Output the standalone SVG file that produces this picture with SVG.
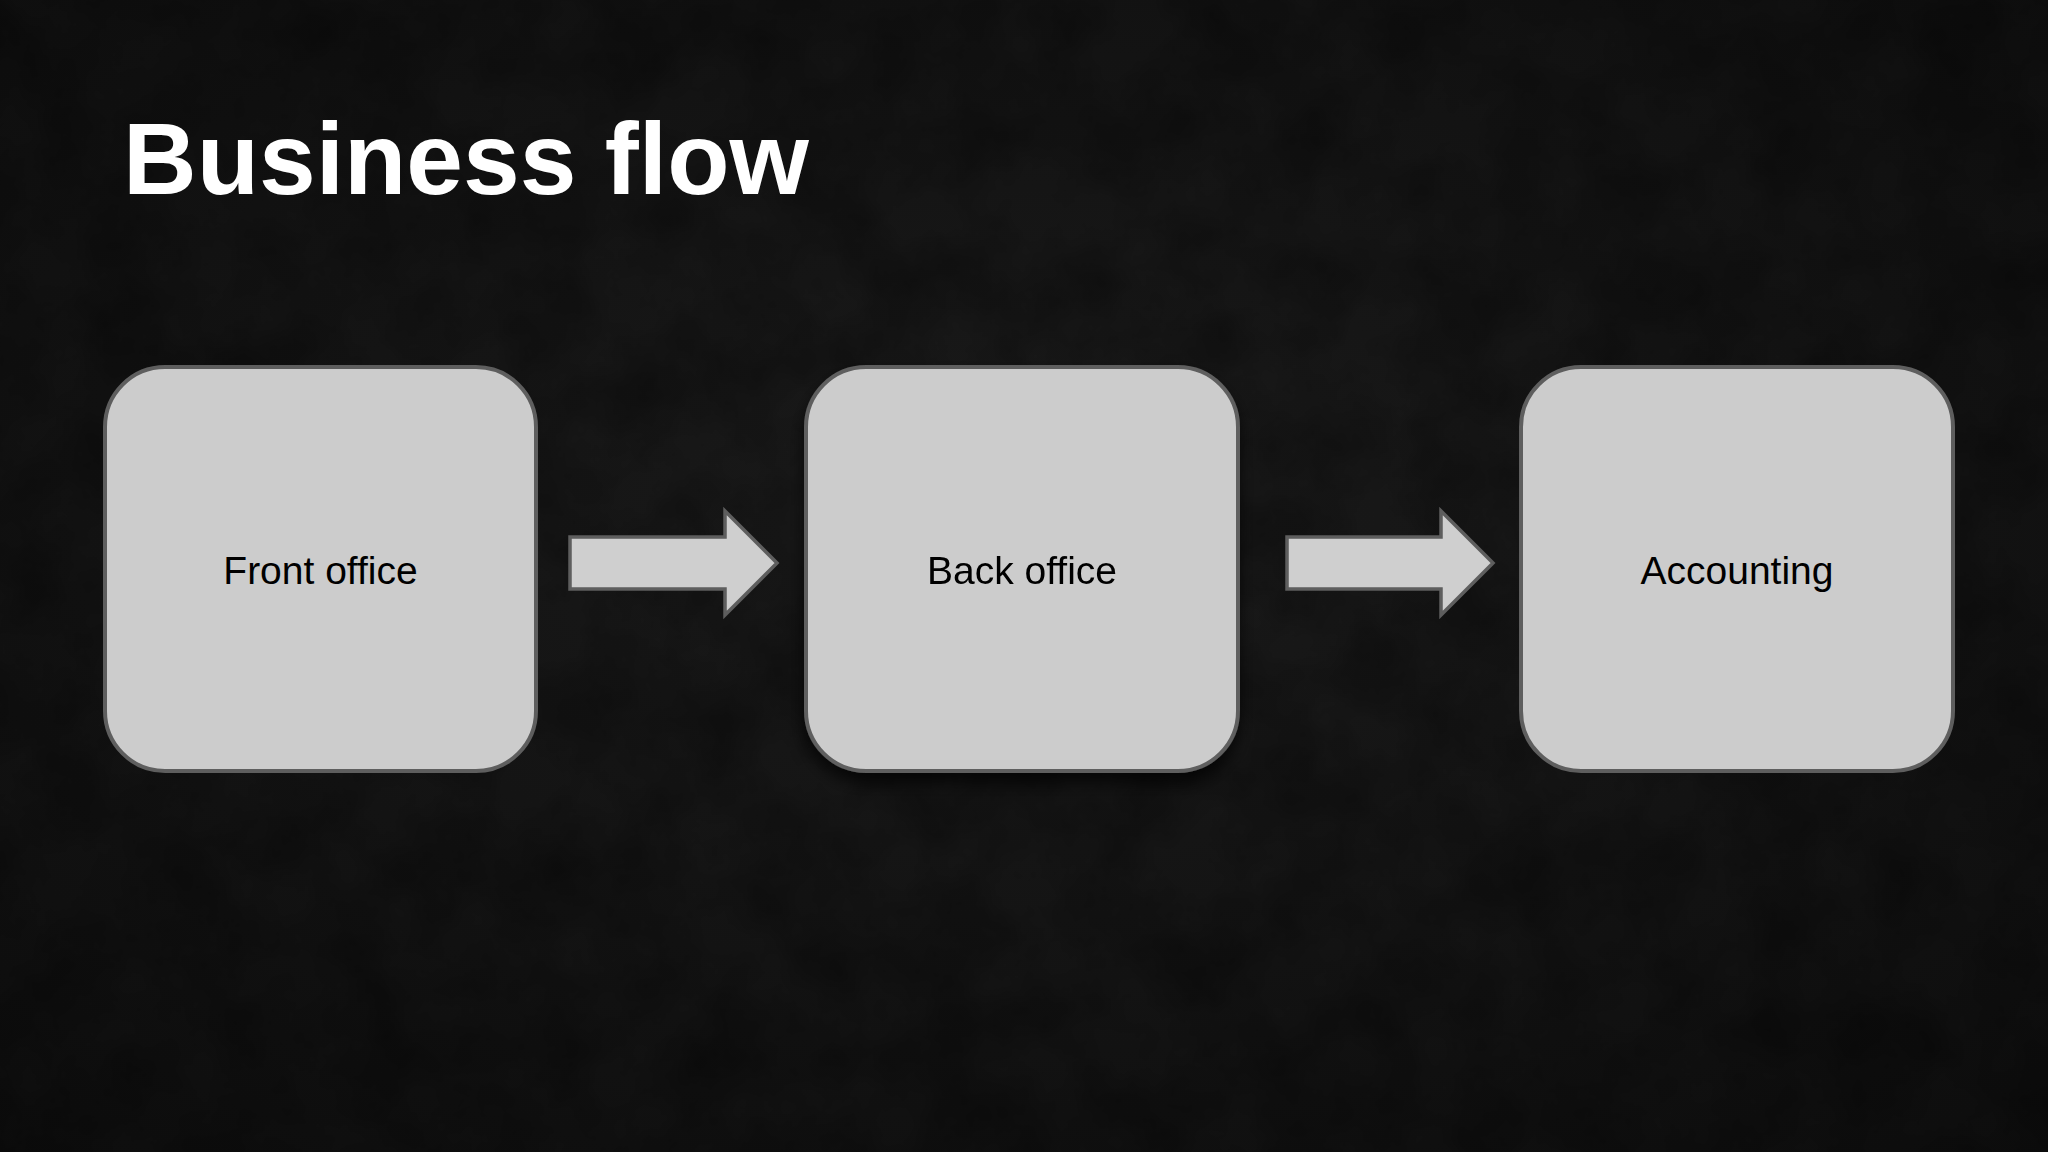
<svg xmlns="http://www.w3.org/2000/svg" width="2048" height="1152" viewBox="0 0 2048 1152">
  <defs>
    <filter id="grunge" x="0" y="0" width="100%" height="100%">
      <feTurbulence type="fractalNoise" baseFrequency="0.012" numOctaves="5" seed="7" result="n"/>
      <feColorMatrix in="n" type="matrix" values="0 0 0 0 0  0 0 0 0 0  0 0 0 0 0  0 0 0 -1.6 1.1"/>
    </filter>
    <filter id="shadow" x="-10%" y="-10%" width="120%" height="125%">
      <feGaussianBlur in="SourceAlpha" stdDeviation="8"/>
      <feOffset dx="0" dy="10" result="b"/>
      <feComponentTransfer><feFuncA type="linear" slope="0.7"/></feComponentTransfer>
      <feMerge><feMergeNode/><feMergeNode in="SourceGraphic"/></feMerge>
    </filter>
    <radialGradient id="bg" cx="50%" cy="45%" r="75%">
      <stop offset="0" stop-color="#1a1a1a"/>
      <stop offset="1" stop-color="#0d0d0d"/>
    </radialGradient>
  </defs>
  <style>
    .box { fill: #cccccc; stroke: #5e5e5e; stroke-width: 4; }
    .arrow { fill: #cfcfcf; stroke: #5e5e5e; stroke-width: 3.5; stroke-linejoin: miter; }
    .label { font-family: "Liberation Sans", Arial, sans-serif; font-size: 39px; fill: #000000; text-anchor: middle; }
    .title { font-family: "Liberation Sans", Arial, sans-serif; font-size: 102px; font-weight: bold; fill: #ffffff; }
  </style>

  <rect x="0" y="0" width="2048" height="1152" fill="url(#bg)"/>
  <rect x="0" y="0" width="2048" height="1152" fill="#000" opacity="0.35" filter="url(#grunge)"/>

  <text class="title" x="123" y="194">Business flow</text>

  <g id="connectors">
    <polygon class="arrow" points="570,537 725,537 725,511 777,563 725,615 725,589 570,589"/>
    <polygon class="arrow" points="1287,537 1441,537 1441,511 1493,563 1441,615 1441,589 1287,589"/>
  </g>

  <g id="node-front-office">
    <rect class="box" x="105" y="367" width="431" height="404" rx="60" ry="60"/>
    <text class="label" x="320.5" y="584">Front office</text>
  </g>

  <g id="node-back-office" filter="url(#shadow)">
    <rect class="box" x="806" y="367" width="432" height="404" rx="60" ry="60"/>
    <text class="label" x="1022" y="584">Back office</text>
  </g>

  <g id="node-accounting">
    <rect class="box" x="1521" y="367" width="432" height="404" rx="60" ry="60"/>
    <text class="label" x="1737" y="584">Accounting</text>
  </g>
</svg>
